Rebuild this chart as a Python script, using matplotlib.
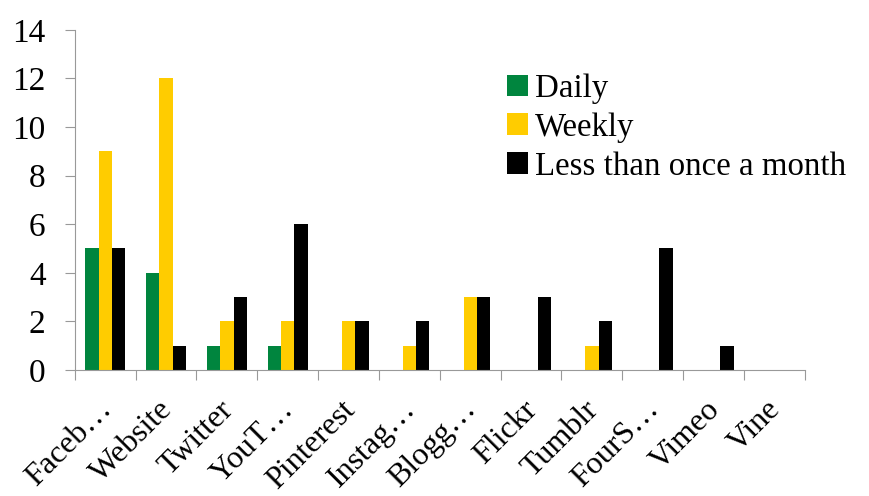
import numpy as np
import matplotlib.pyplot as plt
import matplotlib.transforms as mtransforms

# survey data
platforms = ['Faceb\u2026', 'Website', 'Twitter', 'YouT\u2026', 'Pinterest', 'Instag\u2026',
             'Blogg\u2026', 'Flickr', 'Tumblr', 'FourS\u2026', 'Vimeo', 'Vine']
daily = [5, 4, 1, 1, 0, 0, 0, 0, 0, 0, 0, 0]
weekly = [9, 12, 2, 2, 2, 1, 3, 0, 1, 0, 0, 0]
less_monthly = [5, 1, 3, 6, 2, 2, 3, 3, 2, 5, 1, 0]

plt.rcParams['font.family'] = 'Liberation Serif'

fig = plt.figure(figsize=(8.7, 4.96), dpi=100)
ax = fig.add_axes([0.086, 0.254, 0.839, 0.686])

x = np.arange(len(platforms))
w = 0.22
ax.bar(x - w, daily, w, color='#00853E', label='Daily')
ax.bar(x, weekly, w, color='#FFCC00', label='Weekly')
ax.bar(x + w, less_monthly, w, color='black', label='Less than once a month')

ax.set_xlim(-0.5, len(platforms) - 0.5)
ax.set_ylim(0, 14)
ax.set_yticks(range(0, 15, 2))
ax.tick_params(axis='y', labelsize=24, color='#999999', length=7, pad=14)

# ticks between categories, labels at centres
ax.set_xticks(np.arange(-0.5, len(platforms), 1))
ax.set_xticklabels([])
ax.set_xticks(x, minor=True)
ax.set_xticklabels(platforms, minor=True, rotation=45, ha='right', va='top',
                   rotation_mode='anchor', fontsize=23)
ax.tick_params(axis='x', which='major', color='#999999', length=7)
ax.tick_params(axis='x', which='minor', length=0, pad=18)
shift = mtransforms.ScaledTranslation(-6 / 72, 0, fig.dpi_scale_trans)
for lbl in ax.get_xticklabels(minor=True):
    lbl.set_transform(lbl.get_transform() + shift)

for s in ['top', 'right']:
    ax.spines[s].set_visible(False)
for s in ['left', 'bottom']:
    ax.spines[s].set_color('#999999')

ax.legend(loc='upper left', bbox_to_anchor=(0.574, 0.91), frameon=False, fontsize=23.7,
          handlelength=0.65, handleheight=0.65, handletextpad=0.2, labelspacing=0.25,
          borderaxespad=0)

fig.savefig('out.png')
